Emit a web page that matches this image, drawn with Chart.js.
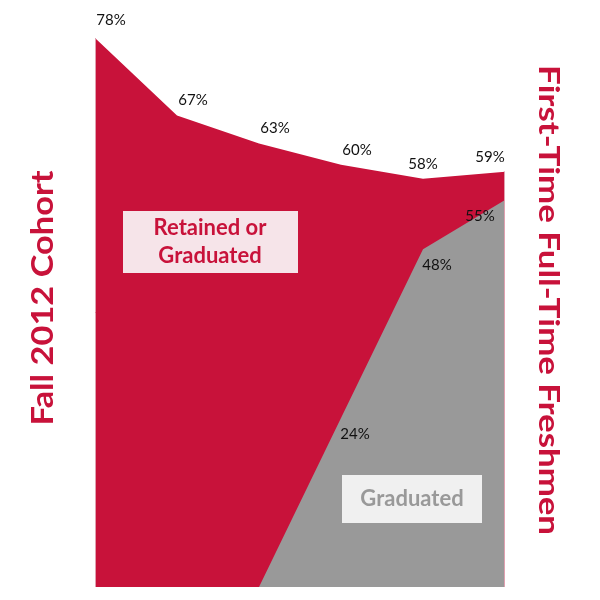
<!DOCTYPE html>
<html>
<head>
<meta charset="utf-8">
<script src="https://cdn.jsdelivr.net/npm/chart.js@4.4.1/dist/chart.umd.min.js"></script>
<style>
  html, body { margin: 0; padding: 0; background: #fff; }
  #c { display: block; }
</style>
</head>
<body>
<canvas id="c" width="600" height="600"></canvas>
<script>
// values
const terms = ["Fall 2012", "Fall 2013", "Fall 2014", "Fall 2015", "Fall 2016", "Fall 2017"];
const retainedOrGrad = [78, 67, 63, 60, 58, 59];
const graduated = [null, null, 0, 24, 48, 55];
const leftTitle = "Fall 2012 Cohort";
const rightTitle = "First-Time Full-Time Freshmen";

const RED = "#c8123a";
const GRAY = "#999999";
const FONT = "Lato, 'Open Sans', sans-serif";

// value labels next to each point
const valueLabels = {
  id: "valueLabels",
  afterDatasetsDraw(chart) {
    const ctx = chart.ctx;
    ctx.save();
    ctx.font = "15px " + FONT;
    ctx.fillStyle = "#111";
    ctx.textAlign = "center";
    ctx.textBaseline = "middle";
    chart.data.datasets.forEach((ds, di) => {
      const meta = chart.getDatasetMeta(di);
      const last = ds.data.length - 1;
      meta.data.forEach((pt, i) => {
        const v = ds.data[i];
        if (v === null || v === 0) return;
        let dx, dy;
        if (ds.label === "Graduated") {
          dx = i === last ? -25 : 14;
          dy = 16;
        } else {
          dx = i === last ? -15 : (i === 4 ? 0 : 16);
          dy = i === 0 ? -18 : -15;
        }
        ctx.fillText(v + "%", pt.x + dx, pt.y + dy);
      });
    });
    ctx.restore();
  }
};

function fitText(ctx, txt, len) {
  const w = ctx.measureText(txt).width;
  ctx.scale(len / w, 1);
  ctx.fillText(txt, 0, 0);
}

// side titles and in-area legend boxes
const decorations = {
  id: "decorations",
  afterDraw(chart) {
    const ctx = chart.ctx;
    const area = chart.chartArea;
    ctx.save();
    // faint edge lines at both ends of the area
    ctx.strokeStyle = "#e0a0b0";
    ctx.lineWidth = 1;
    ctx.beginPath();
    ctx.moveTo(area.left + 0.5, chart.scales.y.getPixelForValue(retainedOrGrad[0]));
    ctx.lineTo(area.left + 0.5, area.bottom);
    ctx.moveTo(area.right - 0.5, chart.scales.y.getPixelForValue(retainedOrGrad[retainedOrGrad.length - 1]));
    ctx.lineTo(area.right - 0.5, area.bottom);
    ctx.stroke();

    ctx.fillStyle = RED;
    ctx.textAlign = "center";
    ctx.textBaseline = "middle";
    ctx.font = "bold 30px " + FONT;
    ctx.save();
    ctx.translate(43, 298);
    ctx.rotate(-Math.PI / 2);
    fitText(ctx, leftTitle, 255);
    ctx.restore();

    ctx.save();
    ctx.font = "bold 29px " + FONT;
    ctx.translate(548, 300);
    ctx.rotate(Math.PI / 2);
    fitText(ctx, rightTitle, 470);
    ctx.restore();

    // Retained or Graduated box
    ctx.fillStyle = "#f6e4e9";
    ctx.fillRect(123, 211, 175, 62);
    ctx.fillStyle = RED;
    ctx.font = "bold 22px " + FONT;
    ctx.fillText("Retained or", 210, 228);
    ctx.fillText("Graduated", 210, 256);

    // Graduated box
    ctx.fillStyle = "#f0f0f0";
    ctx.fillRect(342, 475, 140, 48);
    ctx.fillStyle = GRAY;
    ctx.fillText("Graduated", 412, 499);
    ctx.restore();
  }
};

new Chart(document.getElementById("c"), {
  type: "line",
  data: {
    labels: terms,
    datasets: [
      {
        label: "Graduated",
        data: graduated,
        backgroundColor: GRAY,
        borderWidth: 0,
        pointRadius: 0,
        tension: 0,
        fill: "origin"
      },
      {
        label: "Retained or Graduated",
        data: retainedOrGrad,
        backgroundColor: RED,
        borderWidth: 0,
        pointRadius: 0,
        tension: 0,
        fill: "origin"
      }
    ]
  },
  options: {
    responsive: false,
    animation: false,
    layout: { padding: { left: 95, right: 95, top: 38, bottom: 13 } },
    plugins: {
      legend: { display: false },
      tooltip: { enabled: false }
    },
    scales: {
      x: { display: false, offset: false },
      y: { display: false, min: 0, max: 78 }
    }
  },
  plugins: [valueLabels, decorations]
});
</script>
</body>
</html>
